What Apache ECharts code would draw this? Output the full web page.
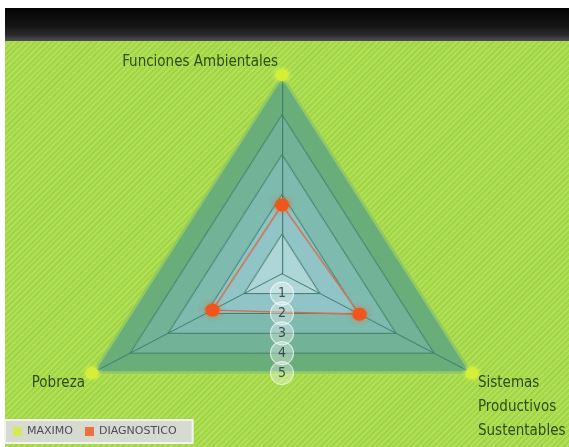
<!DOCTYPE html>
<html>
<head>
<meta charset="utf-8">
<title>Diagnóstico</title>
<script src="https://cdn.jsdelivr.net/npm/echarts@6/dist/echarts.min.js"></script>
<style>
  html, body { margin: 0; padding: 0; width: 569px; height: 447px; overflow: hidden; background: #ffffff; }
  #panel {
    position: absolute; left: 5px; top: 8px; width: 564px; height: 439px;
    background: repeating-linear-gradient(135deg, #a1d546 0px, #a1d546 2px, #b0df58 2px, #b0df58 4px);
  }
  #bar {
    position: absolute; left: 5px; top: 8px; width: 564px; height: 33px;
    background: linear-gradient(#030303 0%, #151515 55%, #2a2a2e 82%, #3a3b48 90%, #4c5240 100%);
  }
  #radar, #overlay { position: absolute; left: 0; top: 0; width: 569px; height: 447px; }
  /* the radar is drawn a little wider than tall */
  #radar { transform-origin: 282px 0; transform: scaleX(1.104); }
</style>
</head>
<body>
<div id="panel"></div>
<div id="bar"></div>
<div id="radar"></div>
<div id="overlay"></div>
<script>
// ---- data ----
const indicators = ['Funciones Ambientales', 'Pobreza', 'Sistemas\nProductivos\nSustentables'];
const maximo = [5, 5, 5];
const diagnostico = [1.73, 1.83, 2.04];
const ringValues = [1, 2, 3, 4, 5];
const ringLabels = ['1', '2', '3', '4', '5'];
const seriesNames = ['MAXIMO', 'DIAGNOSTICO'];
const axisMax = 5;

// ---- geometry ----
const CX = 282, CY = 273.7, R = 198.7, SX = 1.104;
const FONT = "'DejaVu Sans Condensed', 'DejaVu Sans', sans-serif";
const COLORS = { maximo: '#d6ee36', diag: '#f0561c' };

// vertex of indicator i on screen (after the horizontal stretch)
function vertex(i) {
  const a = (90 + i * 360 / indicators.length) * Math.PI / 180;
  return [CX + R * Math.cos(a) * SX, CY - R * Math.sin(a)];
}

const radarChart = echarts.init(document.getElementById('radar'), null, { renderer: 'canvas' });
radarChart.setOption({
  animation: false,
  radar: {
    center: [CX, CY],
    radius: R,
    startAngle: 90,
    splitNumber: 5,
    shape: 'polygon',
    indicator: indicators.map(n => ({ name: n, min: 0, max: axisMax })),
    axisName: { show: false },
    axisLine: { lineStyle: { color: '#3c776f', width: 1 } },
    splitLine: { lineStyle: { color: '#3c776f', width: 1 } },
    splitArea: { areaStyle: { color: ['#b4d9e4', '#93c5d0', '#7fbab6', '#72b29c', '#68ac7e'] } }
  },
  series: [
    {
      name: seriesNames[0],
      type: 'radar',
      symbol: 'circle',
      symbolSize: 12,
      itemStyle: { color: COLORS.maximo, shadowBlur: 5, shadowColor: 'rgba(230,255,80,0.9)' },
      lineStyle: { color: 'rgba(170,220,90,0.75)', width: 3.5 },
      areaStyle: { color: 'rgba(120,190,90,0.12)' },
      data: [{ value: maximo, name: seriesNames[0] }]
    },
    {
      name: seriesNames[1],
      type: 'radar',
      symbol: 'circle',
      symbolSize: 13,
      itemStyle: { color: COLORS.diag, shadowBlur: 5, shadowColor: 'rgba(255,90,20,0.7)' },
      lineStyle: { color: '#d96a4c', width: 1.3 },
      data: [{ value: diagnostico, name: seriesNames[1] }]
    }
  ]
});

// ---- texts, ring numbers and legend ----
const v0 = vertex(0), v1 = vertex(1), v2 = vertex(2);
const nameStyle = { fill: '#2e4c14', fontSize: 15, fontFamily: FONT };
const overlay = echarts.init(document.getElementById('overlay'), null, { renderer: 'canvas' });
overlay.setOption({
  animation: false,
  polar: { center: [CX, CY], radius: R / 2 },
  angleAxis: { type: 'value', min: 0, max: 360, startAngle: 90, show: false },
  radiusAxis: { type: 'value', min: 0, max: axisMax, show: false },
  legend: {
    data: seriesNames,
    left: 5, top: 420,
    padding: [6, 16, 6, 8],
    icon: 'rect',
    itemWidth: 9, itemHeight: 9, itemGap: 12,
    backgroundColor: '#d7dad0',
    borderColor: '#f3f5ec', borderWidth: 2,
    textStyle: { fontSize: 11, color: '#4a4c5c', fontFamily: "'DejaVu Sans', sans-serif" }
  },
  graphic: [
    { type: 'text', x: v0[0] - 4, y: v0[1] - 13, style: Object.assign({ text: indicators[0], align: 'right', verticalAlign: 'middle' }, nameStyle) },
    { type: 'text', x: v1[0] - 7, y: v1[1] + 10, style: Object.assign({ text: indicators[1], align: 'right', verticalAlign: 'middle' }, nameStyle) },
    { type: 'text', x: v2[0] + 6, y: v2[1] - 2, style: Object.assign({ text: indicators[2], align: 'left', verticalAlign: 'top', lineHeight: 24 }, nameStyle) }
  ],
  series: [
    {
      type: 'scatter',
      coordinateSystem: 'polar',
      silent: true,
      symbolSize: 23,
      itemStyle: { color: 'rgba(255,255,255,0.42)', borderColor: 'rgba(255,255,255,0.8)', borderWidth: 1.2 },
      label: {
        show: true, position: 'inside',
        formatter: p => ringLabels[p.dataIndex],
        color: '#26302f', fontSize: 14, fontFamily: FONT
      },
      data: ringValues.map(v => [v, 180])
    },
    { name: seriesNames[0], type: 'scatter', coordinateSystem: 'polar', itemStyle: { color: COLORS.maximo }, data: [] },
    { name: seriesNames[1], type: 'scatter', coordinateSystem: 'polar', itemStyle: { color: COLORS.diag }, data: [] }
  ]
});
</script>
</body>
</html>
